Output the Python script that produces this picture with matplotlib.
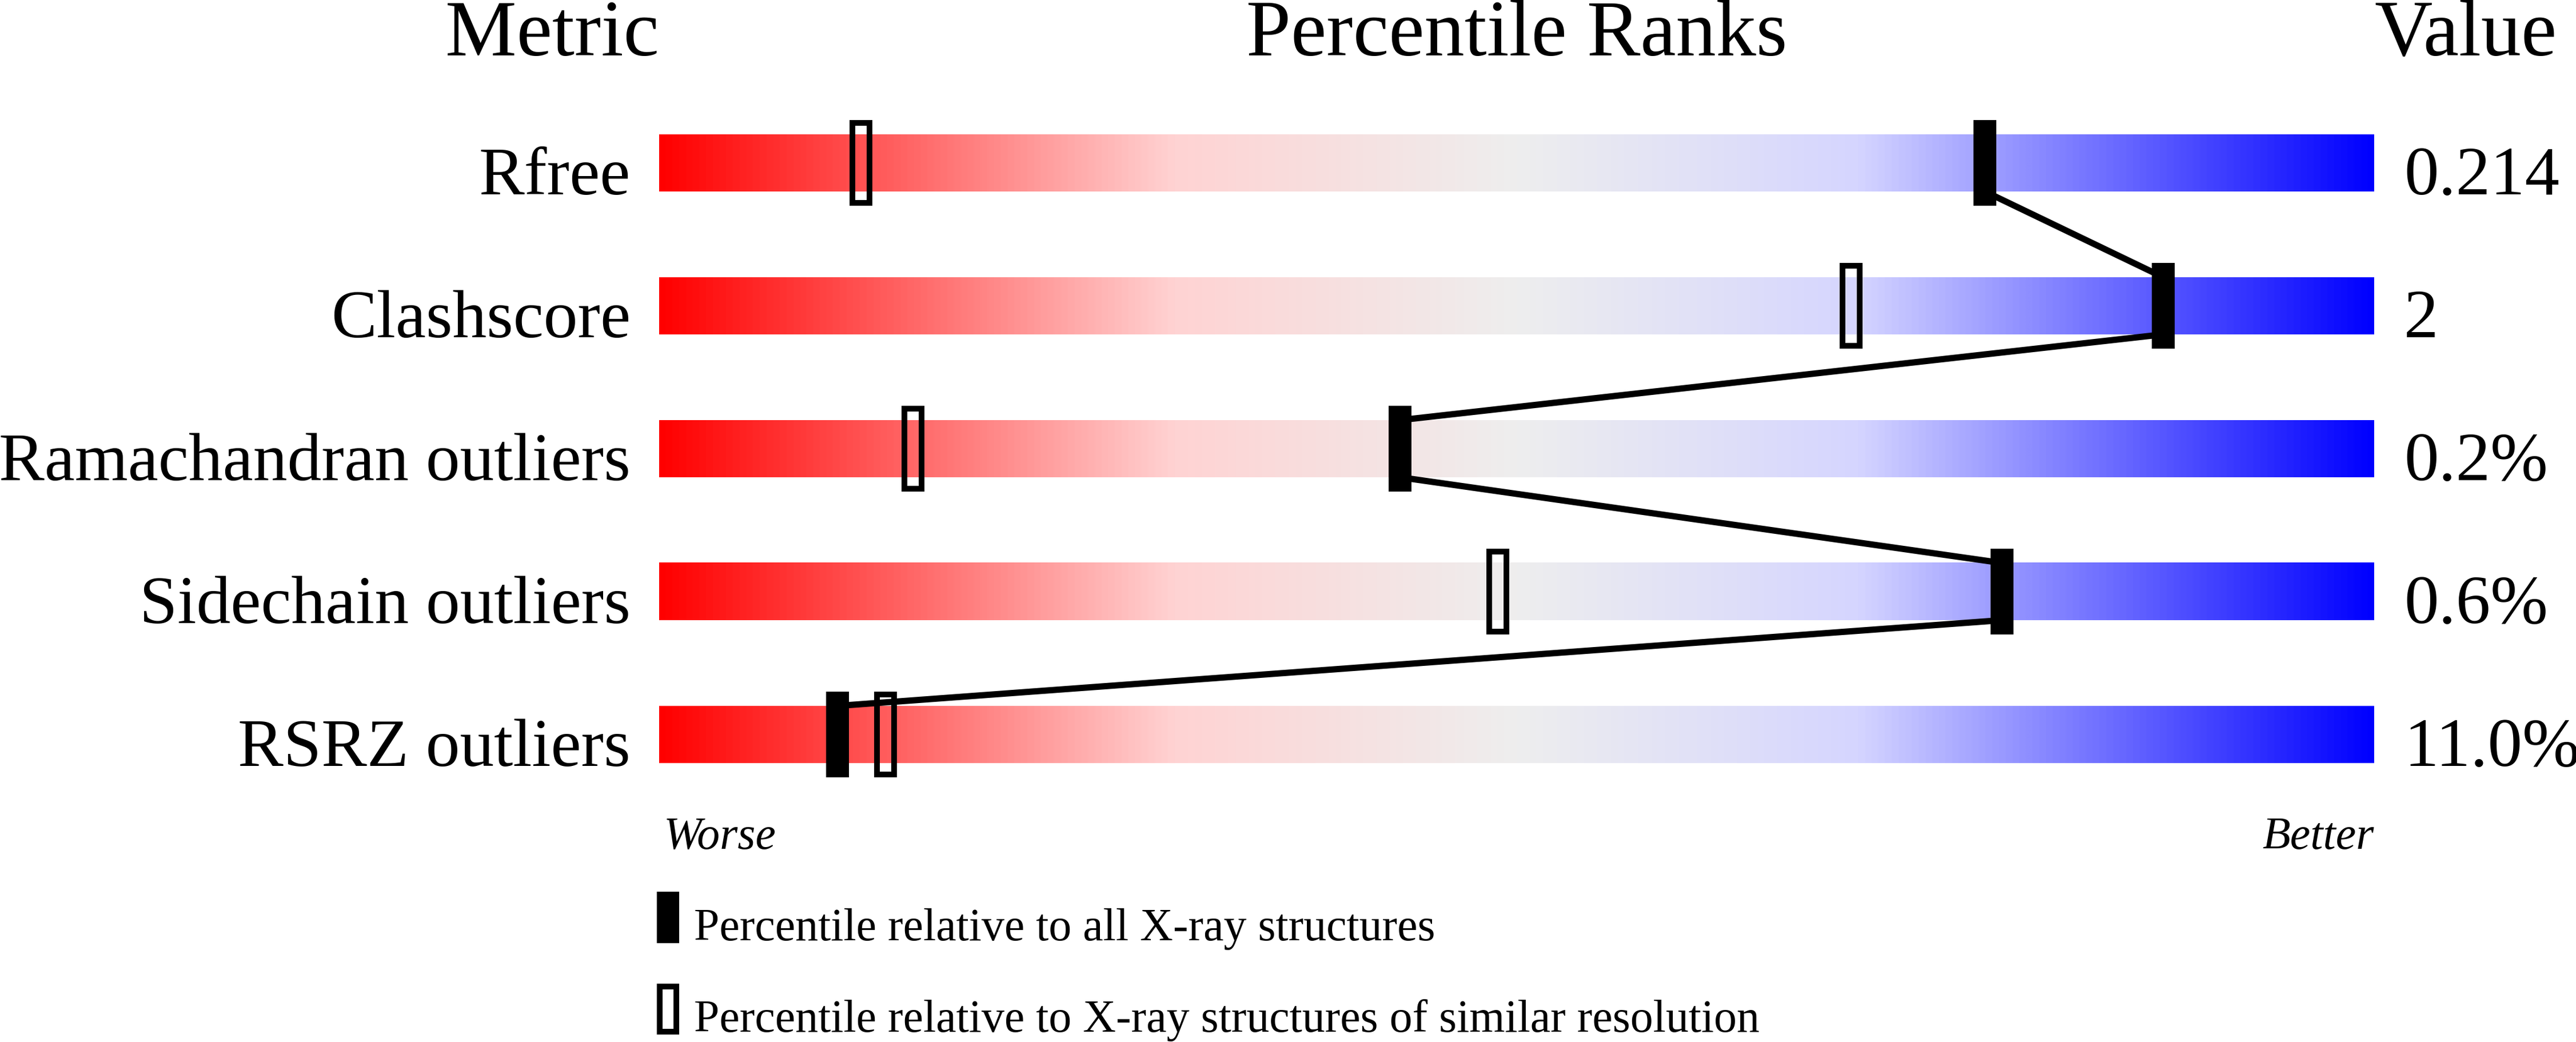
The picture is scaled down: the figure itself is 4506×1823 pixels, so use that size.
import numpy as np
import matplotlib
matplotlib.use("Agg")
import matplotlib.pyplot as plt
from matplotlib.colors import LinearSegmentedColormap
from matplotlib.patches import Rectangle

# data
metrics = ["Rfree", "Clashscore", "Ramachandran outliers", "Sidechain outliers", "RSRZ outliers"]
values = ["0.214", "2", "0.2%", "0.6%", "11.0%"]
pct_all = [77.3, 87.7, 43.2, 78.3, 10.4]        # filled markers
pct_similar = [11.75, 69.5, 14.8, 48.9, 13.2]   # open markers

SERIF = 'Liberation Serif'

W, H, DPI = 4506, 1824, 100
fig = plt.figure(figsize=(W / DPI, H / DPI), dpi=DPI)

# axes covers bar area horizontally, full height vertically
bar_left, bar_right = 1153, 4153
ax = fig.add_axes([bar_left / W, 0, (bar_right - bar_left) / W, 1])
ax.set_xlim(0, 100)
row0, step = 286, 250            # pixel centre of first row, row spacing
ax.set_ylim((H - row0) / step, -row0 / step)
ax.axis('off')

px = 100 / (bar_right - bar_left)   # x units per pixel
py = 1 / step                       # y units per pixel

cmap = LinearSegmentedColormap.from_list(
    'slider', [(0.0, '#ff0000'), (0.3, '#ffd3d3'), (0.5, '#eeeeee'),
               (0.7, '#d5d5ff'), (1.0, '#0000ff')])
grad = np.linspace(0, 1, 1024).reshape(1, -1)

half_bar = 50 * py
half_mark = 75 * py
lw = 11 * 72 / DPI
box_lw = 10 * 72 / DPI


def txt(x, y, s, size, **kw):
    ax.text(x, y, s, fontsize=size, family=SERIF, va='baseline', **kw)


for i, (name, val) in enumerate(zip(metrics, values)):
    ax.imshow(grad, cmap=cmap, aspect='auto', interpolation='bilinear',
              extent=(0, 100, i + half_bar, i - half_bar), zorder=1)
    txt(-50 * px, i + 54 * py, name, 86, ha='right')
    txt(100 + 52 * px, i + 54 * py, val, 87, ha='left')
    # open marker (similar resolution)
    ax.add_patch(Rectangle((pct_similar[i] - 15 * px, i - 70 * py), 30 * px, 140 * py,
                           fill=False, edgecolor='black', linewidth=box_lw, zorder=2))
    # filled marker (all X-ray structures)
    ax.add_patch(Rectangle((pct_all[i] - 20 * px, i - half_mark), 40 * px, 150 * py,
                           facecolor='black', edgecolor='none', zorder=4))

# connector between filled markers
for i in range(len(metrics) - 1):
    ax.plot([pct_all[i], pct_all[i + 1]], [i + half_bar, i + 1 - half_bar],
            color='black', linewidth=lw, solid_capstyle='butt', zorder=3)

# headers
hy = (97 - row0) * py
txt(0, hy, "Metric", 101, ha='right')
txt(50, hy, "Percentile Ranks", 101, ha='center')
txt(100, hy, "Value", 101, ha='left')

# worse / better
wy = (1485 - row0) * py
txt(8 * px, wy, "Worse", 57.5, ha='left', style='italic')
txt(100, wy, "Better", 57.5, ha='right', style='italic')

# legend
ax.add_patch(Rectangle((-4 * px, (1561 - row0) * py), 39 * px, 90 * py,
                       facecolor='black', edgecolor='none', clip_on=False))
ax.add_patch(Rectangle((1 * px, (1726.5 - row0) * py), 29 * px, 79 * py,
                       fill=False, edgecolor='black', linewidth=box_lw, clip_on=False))
txt(61 * px, (1645 - row0) * py, "Percentile relative to all X-ray structures", 57.5, ha='left')
txt(61 * px, (1805 - row0) * py,
    "Percentile relative to X-ray structures of similar resolution", 57.5, ha='left')

fig.savefig("out.png", dpi=DPI, facecolor='white')
